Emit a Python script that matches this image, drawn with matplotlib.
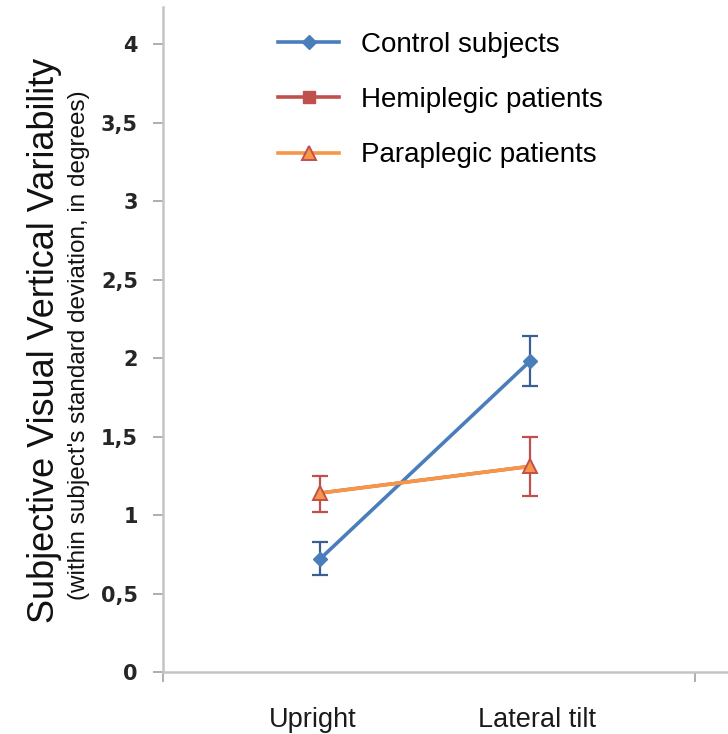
import matplotlib
matplotlib.use("Agg")
import matplotlib.pyplot as plt
import matplotlib.transforms as mtransforms
from matplotlib.ticker import FixedLocator, FuncFormatter, NullFormatter
from matplotlib.lines import Line2D

# Conditions and group means with error bars (degrees)
conditions = ["Upright", "Lateral tilt"]
control_mean = [0.72, 1.98]
control_err_low = [0.10, 0.16]
control_err_high = [0.11, 0.16]
hemiplegic_mean = [1.14, 1.31]
hemiplegic_err_low = [0.12, 0.19]
hemiplegic_err_high = [0.11, 0.19]
paraplegic_mean = [1.14, 1.31]
y_ticks = [0, 0.5, 1, 1.5, 2, 2.5, 3, 3.5, 4]

BLUE = "#4a7ebb"
BLUE_DARK = "#3b5f93"
RED = "#c0504d"
ORANGE = "#f79646"
AXIS_GRAY = "#c4c4c4"

W, H = 728, 734
fig = plt.figure(figsize=(W / 100, H / 100), dpi=100)
ax = fig.add_axes([163 / W, (H - 672) / H, 1 - 163 / W, (672 - 7) / H])

x = list(range(len(conditions)))

# Hemiplegic group (drawn underneath the paraplegic series, same positions)
ax.errorbar(x, hemiplegic_mean, yerr=[hemiplegic_err_low, hemiplegic_err_high],
            color=RED, lw=2.5, ecolor=RED, elinewidth=1.6,
            capsize=6, capthick=1.6, zorder=2)
ax.errorbar(x, control_mean, yerr=[control_err_low, control_err_high],
            color=BLUE, lw=2.6, marker="D", ms=7.5, ecolor=BLUE_DARK, elinewidth=1.6,
            capsize=6, capthick=1.6, zorder=3)
ax.plot(x, paraplegic_mean, color=ORANGE, lw=2.6, marker="^", ms=10,
        mfc=ORANGE, mec=RED, mew=1.4, zorder=4)

ax.set_xlim(-0.748, 1.943)
ax.set_ylim(0, 4.236)

# Legend entries
handles = [
    Line2D([], [], color=BLUE, lw=2.6, marker="D", ms=7.5),
    Line2D([], [], color=RED, lw=2.6, marker="s", ms=9),
    Line2D([], [], color=ORANGE, lw=2.6, marker="^", ms=10, mfc=ORANGE, mec=RED, mew=1.4),
]
labels = ["Control subjects", "Hemiplegic patients", "Paraplegic patients"]
fig.legend(handles, labels, loc="upper left", bbox_to_anchor=(278 / W, 1 - 32 / H),
           frameon=False, borderpad=0, borderaxespad=0, handlelength=2.2,
           handletextpad=0.78, labelspacing=1.05,
           prop={"family": "Liberation Sans", "size": 20})

# Spines
for side in ("top", "right"):
    ax.spines[side].set_visible(False)
for side in ("left", "bottom"):
    ax.spines[side].set_color(AXIS_GRAY)
    ax.spines[side].set_linewidth(1.8)

# Y axis ticks
ax.yaxis.set_major_locator(FixedLocator(y_ticks))
ax.yaxis.set_major_formatter(FuncFormatter(lambda v, p: f"{v:g}".replace(".", ",")))
ax.tick_params(axis="y", direction="out", length=7, width=1.3, color="#a8a8a8",
               pad=11, labelsize=15, labelcolor="#262626")
for lab in ax.get_yticklabels():
    lab.set_fontfamily("DejaVu Sans")
    lab.set_fontweight("bold")

# X axis: boundary ticks, category names below each condition
ax.set_xticks([])
ax.set_xticks([-0.748, 1.786], minor=True)
ax.xaxis.set_minor_formatter(NullFormatter())
ax.tick_params(axis="x", which="minor", direction="out", length=7, width=1.3, color="#a8a8a8")
name_shift = [-7, 7]
trans = mtransforms.blended_transform_factory(ax.transData, fig.transFigure)
for xi, name, dx in zip(x, conditions, name_shift):
    off = mtransforms.ScaledTranslation(dx / 100, 0, fig.dpi_scale_trans)
    ax.text(xi, 1 - 720 / H, name, transform=trans + off, ha="center", va="center",
            family="Liberation Sans", fontsize=19.5, color="#1a1a1a", clip_on=False)

# Y axis titles
fig.text(45 / W, 1 - 340 / H, "Subjective Visual Vertical Variability", rotation=90,
         ha="center", va="center", family="Liberation Sans", fontsize=26, color="#111111")
fig.text(79 / W, 1 - 345 / H, "(within subject's standard deviation, in degrees)", rotation=90,
         ha="center", va="center", family="Liberation Sans", fontsize=17.5, color="#111111")

fig.savefig("out.png", dpi=100)
